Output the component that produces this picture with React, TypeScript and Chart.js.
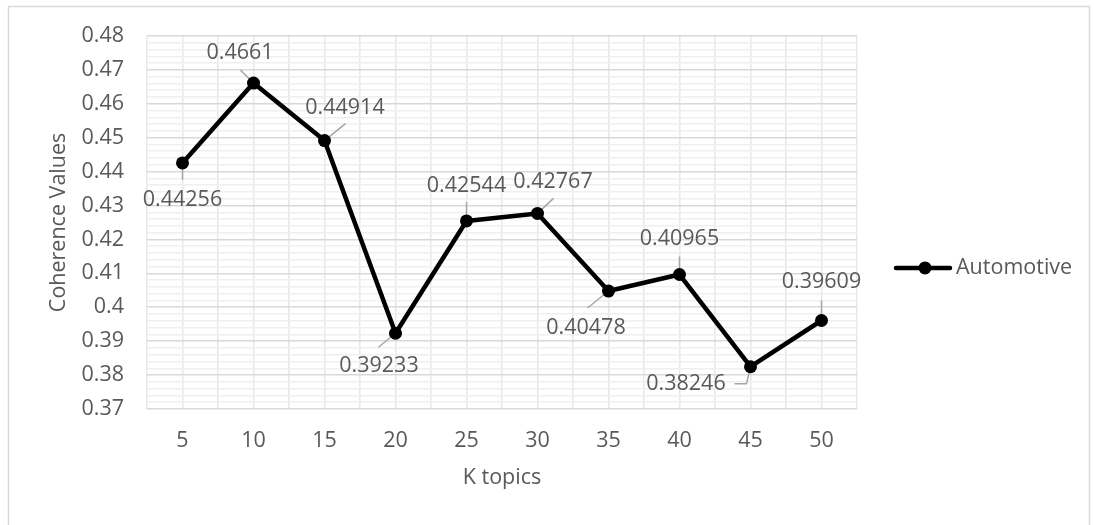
import { useEffect, useRef } from "react";
import { Chart, registerables } from "chart.js";

Chart.register(...registerables);

// Coherence score for each number of topics K
const kTopics = [5, 10, 15, 20, 25, 30, 35, 40, 45, 50];
const coherence = [0.44256, 0.4661, 0.44914, 0.39233, 0.42544, 0.42767, 0.40478, 0.40965, 0.38246, 0.39609];
const seriesName = "Automotive";
const xAxisTitle = "K topics";
const yAxisTitle = "Coherence Values";
const yMin = 0.37;
const yMax = 0.48;

const FONT = '"Open Sans", "Noto Sans", sans-serif';
const TEXT = "#595959";
const FS = 21.5;

// Where each value label sits relative to its point, plus its leader line path
const labelPlacement: { dx: number; dy: number; leader: number[][] }[] = [
  { dx: 0, dy: 37, leader: [[0, 0], [0, 17]] },
  { dx: -13.5, dy: -30, leader: [[0, 0], [-13, -13]] },
  { dx: 20.5, dy: -33, leader: [[0, 0], [21, -17]] },
  { dx: -16.5, dy: 33, leader: [[0, 0], [-17, 14]] },
  { dx: 0, dy: -35, leader: [[0, 0], [0, -19]] },
  { dx: 15.5, dy: -32, leader: [[0, 0], [16, -15]] },
  { dx: -22.5, dy: 37, leader: [[0, 0], [-21, 17]] },
  { dx: 0, dy: -36, leader: [[0, 0], [0, -18]] },
  { dx: -64.5, dy: 17.5, leader: [[0, 0], [-4, 17], [-16, 17]] },
  { dx: 0, dy: -39, leader: [[0, 0], [0, -20]] },
];

const frame = {
  id: "frame",
  beforeDraw(chart: Chart) {
    const { ctx, width, height } = chart;
    ctx.save();
    ctx.fillStyle = "#ffffff";
    ctx.fillRect(0, 0, width, height);
    ctx.strokeStyle = "#d9d9d9";
    ctx.lineWidth = 1.5;
    ctx.strokeRect(8.5, 6.5, width - 13, height + 20);
    ctx.restore();
  },
};

const valueLabels = {
  id: "valueLabels",
  beforeDatasetsDraw(chart: Chart) {
    const { ctx } = chart;
    const meta = chart.getDatasetMeta(0);
    ctx.save();
    ctx.strokeStyle = "#a6a6a6";
    ctx.lineWidth = 1.5;
    meta.data.forEach((pt: any, i: number) => {
      const p = labelPlacement[i];
      ctx.beginPath();
      p.leader.forEach(([lx, ly], j) => {
        if (j === 0) ctx.moveTo(pt.x + lx, pt.y + ly);
        else ctx.lineTo(pt.x + lx, pt.y + ly);
      });
      ctx.stroke();
    });
    ctx.restore();
  },
  afterDatasetsDraw(chart: Chart) {
    const { ctx } = chart;
    const meta = chart.getDatasetMeta(0);
    ctx.save();
    ctx.fillStyle = TEXT;
    ctx.font = `${FS}px ${FONT}`;
    ctx.textAlign = "center";
    ctx.textBaseline = "middle";
    meta.data.forEach((pt: any, i: number) => {
      const p = labelPlacement[i];
      ctx.fillText(String(coherence[i]), pt.x + p.dx, pt.y + p.dy);
    });
    ctx.restore();
  },
};

const sideLegend = {
  id: "sideLegend",
  afterDraw(chart: Chart) {
    const { ctx, chartArea } = chart;
    const y = (chartArea.top + chartArea.bottom) / 2 + 45.5;
    const x0 = chartArea.right + 39;
    ctx.save();
    ctx.strokeStyle = "#000000";
    ctx.lineWidth = 4.5;
    ctx.lineCap = "round";
    ctx.beginPath();
    ctx.moveTo(x0, y);
    ctx.lineTo(x0 + 54, y);
    ctx.stroke();
    ctx.fillStyle = "#000000";
    ctx.beginPath();
    ctx.arc(x0 + 29, y, 6.5, 0, Math.PI * 2);
    ctx.fill();
    ctx.fillStyle = TEXT;
    ctx.font = `${FS}px ${FONT}`;
    ctx.textAlign = "left";
    ctx.textBaseline = "middle";
    ctx.fillText(seriesName, x0 + 60, y);
    ctx.restore();
  },
};

const isMajor = (v: number) => Math.abs(v * 100 - Math.round(v * 100)) < 1e-6;

export default function App() {
  const ref = useRef<HTMLCanvasElement | null>(null);

  useEffect(() => {
    if (!ref.current) return;
    const chart = new Chart(ref.current, {
      type: "line",
      data: {
        datasets: [
          {
            label: seriesName,
            data: kTopics.map((k, i) => ({ x: k, y: coherence[i] })),
            borderColor: "#000000",
            backgroundColor: "#000000",
            borderWidth: 4.5,
            borderJoinStyle: "round",
            pointRadius: 6.5,
            pointBackgroundColor: "#000000",
            pointBorderWidth: 0,
            tension: 0,
          },
        ],
      },
      options: {
        responsive: false,
        animation: false,
        layout: { padding: { left: 0, top: 34, right: 237, bottom: 0 }, autoPadding: false },
        plugins: { legend: { display: false }, tooltip: { enabled: false } },
        scales: {
          x: {
            type: "linear",
            min: 2.5,
            max: 52.5,
            afterFit: (s: any) => {
              s.height = 116;
            },
            ticks: {
              stepSize: 2.5,
              autoSkip: false,
              maxRotation: 0,
              padding: 19,
              color: TEXT,
              font: { family: FONT, size: FS },
              callback: (v: any) => (Number(v) % 5 === 0 ? String(v) : ""),
            },
            grid: { color: "#e8e8e8", lineWidth: 1.5, drawTicks: false },
            border: { display: false },
            title: {
              display: true,
              text: xAxisTitle,
              color: TEXT,
              font: { family: FONT, size: FS },
              padding: { top: 0, bottom: 34 },
            },
          },
          y: {
            type: "linear",
            min: yMin,
            max: yMax,
            afterFit: (s: any) => {
              s.width = 147;
            },
            ticks: {
              stepSize: 0.002,
              autoSkip: false,
              padding: 23,
              color: TEXT,
              font: { family: FONT, size: FS },
              callback: (v: any) => (isMajor(Number(v)) ? String(parseFloat(Number(v).toFixed(2))) : ""),
            },
            grid: {
              color: (c: any) => (isMajor(c.tick.value) ? "#d9d9d9" : "#efefef"),
              lineWidth: 1.5,
              drawTicks: false,
            },
            border: { display: false },
            title: {
              display: true,
              text: yAxisTitle,
              color: TEXT,
              font: { family: FONT, size: FS },
              padding: { top: 46, bottom: 0 },
            },
          },
        },
      },
      plugins: [frame, valueLabels, sideLegend],
    });
    return () => chart.destroy();
  }, []);

  return (
    <div style={{ position: "absolute", left: 0, top: 0, width: 1094, height: 525 }}>
      <canvas ref={ref} width={1094} height={525} style={{ display: "block" }} />
    </div>
  );
}
